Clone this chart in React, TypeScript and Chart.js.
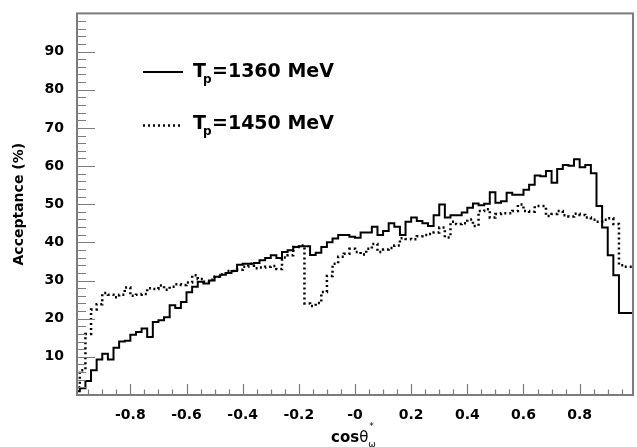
import React, { useEffect, useRef } from 'react';
import { Chart, registerables } from 'chart.js';

Chart.register(...registerables);

// Histogram binning (100 bins over cos theta in [-1, 1])
const BIN_LOW = -1.0;
const BIN_WIDTH = 0.02;

// Acceptance (%) per bin, Tp = 1360 MeV (solid)
const acc1360 = [
  0.3, 1.0, 1.8, 3.7, 6.5, 9.3, 10.8, 9.3, 12.4, 14.0,
  14.2, 15.8, 16.5, 17.4, 15.2, 19.1, 19.6, 20.4, 23.5, 22.8,
  24.4, 26.9, 28.4, 29.7, 29.2, 30.0, 31.0, 31.5, 32.0, 32.5,
  34.1, 34.4, 34.4, 34.6, 35.3, 35.9, 36.6, 35.9, 37.5, 37.9,
  38.8, 39.0, 39.0, 36.7, 37.3, 38.8, 40.0, 41.0, 41.9, 41.9,
  41.5, 41.2, 42.6, 42.6, 44.1, 41.9, 43.0, 45.0, 44.1, 41.9,
  45.4, 46.5, 45.6, 45.0, 44.3, 47.1, 49.9, 46.5, 47.1, 47.1,
  47.8, 49.1, 50.2, 49.7, 50.1, 53.1, 50.4, 50.8, 53.0, 52.5,
  52.5, 53.8, 55.1, 57.5, 57.3, 58.7, 55.6, 59.2, 60.3, 60.1,
  61.8, 59.7, 60.3, 58.1, 49.5, 43.9, 36.6, 31.4, 21.5, 21.5,
];

// Acceptance (%) per bin, Tp = 1450 MeV (dotted)
const acc1450 = [
  0.5, 2.0, 6.5, 16.0, 22.4, 23.8, 26.7, 26.3, 25.6, 26.3,
  28.2, 26.0, 26.3, 26.5, 28.0, 27.8, 28.7, 27.6, 28.4, 29.0,
  28.8, 29.5, 31.4, 30.4, 29.7, 30.2, 31.0, 31.6, 32.5, 32.5,
  32.8, 33.6, 34.4, 33.2, 33.4, 33.6, 33.8, 33.0, 36.0, 36.6,
  38.8, 39.2, 24.0, 23.3, 24.1, 27.0, 31.2, 34.4, 36.2, 37.0,
  38.3, 37.5, 36.8, 38.3, 39.6, 37.5, 38.1, 38.5, 39.2, 41.1,
  40.9, 40.8, 41.6, 41.9, 42.2, 42.6, 43.9, 41.3, 45.4, 44.8,
  45.0, 46.0, 44.3, 48.2, 48.7, 46.5, 47.4, 47.6, 47.6, 48.2,
  49.9, 48.2, 48.0, 49.5, 49.5, 46.9, 47.4, 48.2, 47.1, 46.8,
  47.5, 47.2, 46.5, 45.9, 45.4, 45.9, 46.3, 44.8, 34.0, 33.6,
];

const xTickValues = [-0.8, -0.6, -0.4, -0.2, 0, 0.2, 0.4, 0.6, 0.8];
const xTickLabels = ['-0.8', '-0.6', '-0.4', '-0.2', '-0', '0.2', '0.4', '0.6', '0.8'];
const yTickValues = [10, 20, 30, 40, 50, 60, 70, 80, 90];
const legendEnergies = ['=1360 MeV', '=1450 MeV'];
const yTitle = 'Acceptance (%)';

const X_MIN = -0.99;
const X_MAX = 0.99;
const Y_MIN = 0;
const Y_MAX = 100;

function histPoints(values: number[]) {
  const pts = values.map((v, i) => ({ x: BIN_LOW + i * BIN_WIDTH, y: v }));
  pts.push({ x: BIN_LOW + values.length * BIN_WIDTH, y: values[values.length - 1] });
  return pts;
}

const FONT = '"DejaVu Sans", sans-serif';
const AXIS_GRAY = '#7c7c7c';

const decorPlugin = {
  id: 'rootDecor',
  afterDraw(chart: any) {
    const { ctx, chartArea } = chart;
    const { left, right, top, bottom } = chartArea;
    const xs = chart.scales.x;
    const ys = chart.scales.y;
    ctx.save();

    // ticks (inside the frame)
    ctx.strokeStyle = AXIS_GRAY;
    ctx.lineWidth = 1.2;
    ctx.beginPath();
    for (let k = -20; k <= 20; k++) {
      const v = k * 0.05;
      if (v < X_MIN - 1e-9 || v > X_MAX + 1e-9) continue;
      const px = Math.round(xs.getPixelForValue(v)) + 0.5;
      const major = k % 4 === 0;
      const len = major ? 11 : 5.5;
      ctx.moveTo(px, bottom);
      ctx.lineTo(px, bottom - len);
    }
    for (let k = 1; k < 50; k++) {
      const v = k * 2;
      const py = Math.round(ys.getPixelForValue(v)) + 0.5;
      const major = k % 5 === 0;
      const len = major ? 18 : 9;
      ctx.moveTo(left, py);
      ctx.lineTo(left + len, py);
    }
    ctx.stroke();

    // frame
    ctx.strokeStyle = AXIS_GRAY;
    ctx.lineWidth = 2;
    ctx.strokeRect(left, top, right - left, bottom - top);

    // legend
    ctx.strokeStyle = '#000';
    ctx.lineWidth = 2;
    ctx.setLineDash([]);
    ctx.beginPath();
    ctx.moveTo(143, 72);
    ctx.lineTo(183, 72);
    ctx.stroke();
    ctx.lineWidth = 2.5;
    ctx.setLineDash([2, 3]);
    ctx.beginPath();
    ctx.moveTo(143, 125.5);
    ctx.lineTo(183, 125.5);
    ctx.stroke();
    ctx.setLineDash([]);

    ctx.fillStyle = '#000';
    ctx.textAlign = 'left';
    ctx.textBaseline = 'alphabetic';
    const baselines = [77, 128.5];
    legendEnergies.forEach((txt, i) => {
      const b = baselines[i];
      ctx.font = `bold 19px ${FONT}`;
      ctx.fillText('T', 193, b);
      ctx.font = `bold 12px ${FONT}`;
      ctx.fillText('p', 203, b + 6);
      ctx.font = `bold 19px ${FONT}`;
      ctx.fillText(txt, 212, b);
    });

    // y title
    ctx.save();
    ctx.translate(19.5, (top + bottom) / 2);
    ctx.rotate(-Math.PI / 2);
    ctx.textAlign = 'center';
    ctx.textBaseline = 'middle';
    ctx.font = `bold 14px ${FONT}`;
    ctx.fillText(yTitle, 0, 0);
    ctx.restore();

    // x title: cos theta*_omega
    ctx.textAlign = 'left';
    ctx.textBaseline = 'alphabetic';
    ctx.font = `bold 15px ${FONT}`;
    ctx.fillText('cos', 331, 442);
    const wCos = ctx.measureText('cos').width;
    ctx.font = `15px ${FONT}`;
    ctx.fillText('θ', 331 + wCos, 442);
    const wTh = ctx.measureText('θ').width;
    const sx = 331 + wCos + wTh;
    ctx.font = `9px ${FONT}`;
    ctx.fillText('*', sx + 1, 429);
    ctx.fillText('ω', sx, 447);

    ctx.restore();
  },
};

export default function App() {
  const canvasRef = useRef<HTMLCanvasElement | null>(null);

  useEffect(() => {
    const canvas = canvasRef.current;
    if (!canvas) return;
    const tickFont = { family: FONT, size: 14, weight: 'bold' as const };
    const chart = new Chart(canvas, {
      type: 'line',
      data: {
        datasets: [
          {
            label: 'Tp=1360 MeV',
            data: histPoints(acc1360),
            borderColor: '#000',
            borderWidth: 2,
            pointRadius: 0,
            stepped: 'after',
            fill: false,
            clip: 0,
          },
          {
            label: 'Tp=1450 MeV',
            data: histPoints(acc1450),
            borderColor: '#000',
            borderWidth: 2.5,
            borderDash: [2, 3],
            pointRadius: 0,
            stepped: 'after',
            fill: false,
            clip: 0,
          },
        ],
      },
      options: {
        responsive: false,
        animation: false,
        events: [],
        layout: { padding: { top: 8, right: 4, left: 0, bottom: 0 } },
        plugins: { legend: { display: false }, tooltip: { enabled: false } },
        scales: {
          x: {
            type: 'linear',
            min: X_MIN,
            max: X_MAX,
            grid: { display: false },
            border: { display: false },
            ticks: {
              font: tickFont,
              color: '#000',
              padding: 4,
              maxRotation: 0,
              autoSkip: false,
              callback: (value: any) => {
                const i = xTickValues.findIndex((t) => Math.abs(t - Number(value)) < 1e-9);
                return i >= 0 ? xTickLabels[i] : '';
              },
            },
            afterBuildTicks: (s: any) => {
              s.ticks = xTickValues.map((v) => ({ value: v }));
            },
            afterFit: (s: any) => {
              s.height = 52;
            },
          },
          y: {
            type: 'linear',
            min: Y_MIN,
            max: Y_MAX,
            grid: { display: false },
            border: { display: false },
            ticks: {
              font: tickFont,
              color: '#000',
              padding: 5,
              autoSkip: false,
              callback: (value: any) => String(value),
            },
            afterBuildTicks: (s: any) => {
              s.ticks = yTickValues.map((v) => ({ value: v }));
            },
            afterFit: (s: any) => {
              s.width = 77;
            },
          },
        },
      },
      plugins: [decorPlugin],
    });
    return () => chart.destroy();
  }, []);

  return (
    <div style={{ position: 'fixed', left: 0, top: 0, width: 637, height: 447, background: '#fff' }}>
      <canvas ref={canvasRef} width={637} height={447} style={{ display: 'block' }} />
    </div>
  );
}
